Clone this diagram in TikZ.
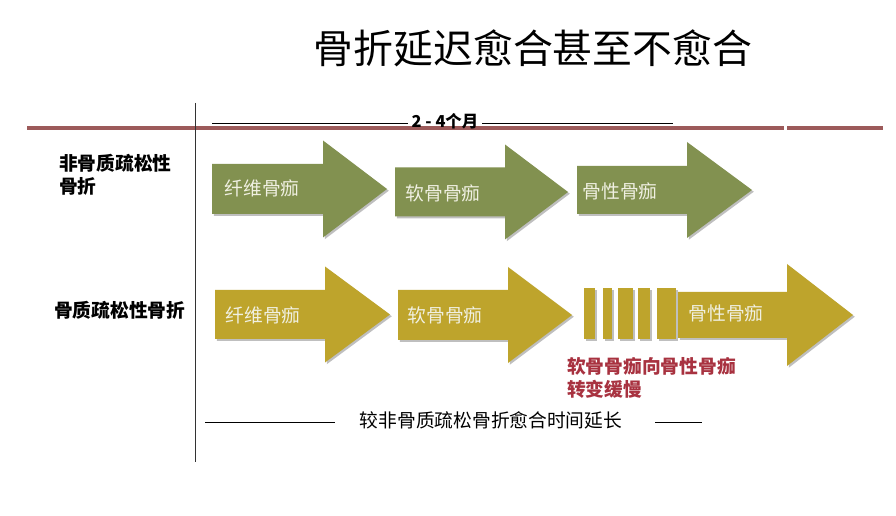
\documentclass[tikz,border=0pt]{standalone}
\usepackage{fontspec}
\setmainfont{Noto Sans CJK SC}
\usepackage{xcolor}
\usepackage{tikz}
\usetikzlibrary{shadows, positioning, calc}

\definecolor{olivecallus}{HTML}{829150}
\definecolor{goldcallus}{HTML}{BEA42C}
\definecolor{redrule}{HTML}{9C5A5A}
\definecolor{redtext}{HTML}{A83240}
\definecolor{labelwhite}{HTML}{F0F0E2}

\tikzset{
  greenarrow/.style={fill=olivecallus, drop shadow={opacity=0.5, shadow xshift=1.5pt, shadow yshift=-1.5pt}},
  goldarrow/.style={fill=goldcallus, drop shadow={opacity=0.5, shadow xshift=1.5pt, shadow yshift=-1.5pt}},
  stagelabel/.style={font=\fontsize{16}{18}\selectfont, text=labelwhite},
  rowlabel/.style={font=\bfseries\fontsize{16}{20}\selectfont, align=left},
}

% arrow: style, start x, head x, tip x, middle y, half body, half head
\newcommand{\healarrow}[7]{%
  \path[#1] ({#2},{#5-#6}) -- ({#3},{#5-#6}) -- ({#3},{#5-#7}) -- ({#4},{#5})
    -- ({#3},{#5+#7}) -- ({#3},{#5+#6}) -- ({#2},{#5+#6}) -- cycle;}

\begin{document}
\begin{tikzpicture}[x=0.03cm, y=-0.03cm]
  \fill[white] (0,0) rectangle (896,516);
  \useasboundingbox (0,0) rectangle (896,516);

  % title and frame
  \node[font=\fontsize{34}{38}\selectfont] (title) at (533,48) {骨折延迟愈合甚至不愈合};
  \draw[redrule, line width=3pt] (27,128) -- (784,128);
  \draw[redrule, line width=3pt] (787,128) -- (883,128);
  \draw[black!80, line width=0.8pt] (195,103) -- (195,462);

  % time span
  \node[font=\bfseries\fontsize{14}{16}\selectfont] (span) at (445,121) {2 - 4个月};
  \coordinate (spanL) at (212,123);
  \coordinate (spanR) at (673,123);
  \draw[line width=0.6pt] (spanL) -- (spanL -| span.west);
  \draw[line width=0.6pt] (spanR -| span.east) -- (spanR);

  % row 1
  \node[rowlabel, anchor=west] (normrow) at (55,175) {非骨质疏松性\\骨折};
  \healarrow{greenarrow}{212}{323}{387}{189}{25}{48.5}
  \healarrow{greenarrow}{395}{505}{568}{192}{24.5}{47.5}
  \healarrow{greenarrow}{577}{687}{752}{190}{24}{48}
  \node[stagelabel] (fibA) at (262,188) {纤维骨痂};
  \node[stagelabel] (cartA) at (443,193) {软骨骨痂};
  \node[stagelabel] (boneA) at (620,191) {骨性骨痂};

  % row 2
  \node[rowlabel, anchor=west] (osteorow) at (50,310) {骨质疏松性骨折};
  \healarrow{goldarrow}{215}{325}{390}{314.5}{24.5}{48}
  \healarrow{goldarrow}{398}{508}{572}{315}{25}{48}
  \foreach \xa/\xb in {584/595, 603/612, 618/633, 638/650, 657/676}
    \fill[goldarrow] (\xa,288) rectangle (\xb,339);
  \healarrow{goldarrow}{678}{787}{853}{315}{23}{51}
  \node[stagelabel] (fibB) at (263,315) {纤维骨痂};
  \node[stagelabel] (cartB) at (445,315) {软骨骨痂};
  \node[stagelabel] (boneB) at (726,313) {骨性骨痂};

  \node[font=\bfseries\fontsize{16}{20}\selectfont, text=redtext, align=left, anchor=north west] (slow) at (563,353) {软骨骨痂向骨性骨痂\\转变缓慢};

  % bottom note
  \node[font=\fontsize{16}{18}\selectfont] (longer) at (491,420) {较非骨质疏松骨折愈合时间延长};
  \coordinate (longL) at (205,422);
  \coordinate (longR) at (702,422);
  \draw[line width=0.8pt] (longL) -- (335,422);
  \draw[line width=0.8pt] (655,422) -- (longR);
\end{tikzpicture}
\end{document}
